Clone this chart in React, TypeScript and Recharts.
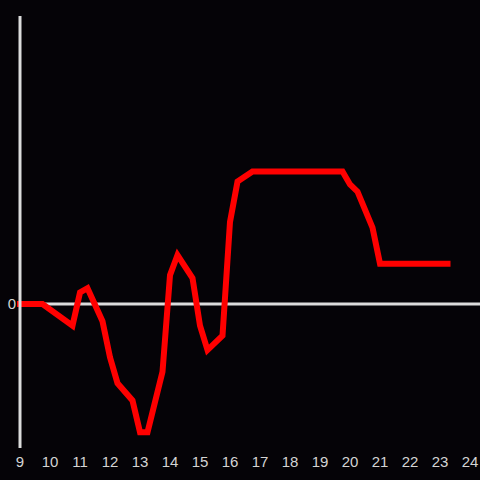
import * as React from 'react';
import {LineChart, Line, XAxis, YAxis, ReferenceLine} from 'recharts';

// hours of the day
const hours = [9, 9.75, 10.75, 11, 11.25, 11.75, 12, 12.25, 12.75, 13, 13.25, 13.75, 14, 14.25,
    14.75, 15, 15.25, 15.75, 16, 16.25, 16.75, 19.75, 20, 20.25, 20.75, 21, 23.25];
const values = [0, 0, -0.15, 0.08, 0.11, -0.12, -0.37, -0.55, -0.67, -0.89, -0.89, -0.47, 0.2, 0.34,
    0.18, -0.15, -0.32, -0.22, 0.57, 0.85, 0.92, 0.92, 0.83, 0.78, 0.53, 0.28, 0.28];
const xTicks = [9, 10, 11, 12, 13, 14, 15, 16, 17, 18, 19, 20, 21, 22, 23, 24];
const yTicks = [0];

const data = hours.map((h, i) => ({hour: h, value: values[i]}));

const axisColor = '#dcdcdc';
const textColor = '#d4d4d4';
const tickFont = {fill: textColor, fontSize: 15, fontFamily: 'Liberation Sans, Arial, sans-serif'};

export default function App() {
    return (
        <div style={{position: 'absolute', left: 0, top: 0, width: 480, height: 480, background: '#050307'}}>
            <LineChart width={480} height={480} data={data}
                       margin={{top: 16, right: 0, left: 0, bottom: 0}}>
                <XAxis dataKey="hour" type="number" domain={[9, 24.333]} ticks={xTicks}
                       axisLine={false} tickLine={false} height={32} interval={0} tick={tickFont}/>
                <YAxis type="number" domain={[-1, 2]} ticks={yTicks} width={20}
                       axisLine={{stroke: axisColor, strokeWidth: 3}} tickLine={false} tickSize={4} tickMargin={0}
                       tick={tickFont}/>
                <ReferenceLine y={0} stroke={axisColor} strokeWidth={3}/>
                <Line type="linear" dataKey="value" stroke="#ff0000" strokeWidth={6} strokeLinecap="square"
                      dot={false} activeDot={false} isAnimationActive={false}/>
            </LineChart>
        </div>
    );
}
